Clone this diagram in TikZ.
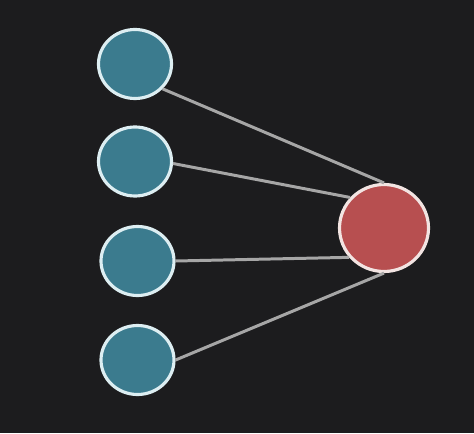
\documentclass[tikz,border=0pt]{standalone}
\usepackage{tikz}
\usetikzlibrary{shapes.geometric}
\definecolor{bgdark}{HTML}{1C1C1E}
\definecolor{tealfill}{HTML}{3B7B8E}
\definecolor{tealrim}{HTML}{DDEEF2}
\definecolor{redfill}{HTML}{B74F50}
\definecolor{redrim}{HTML}{F2E4E2}
\definecolor{wiregray}{HTML}{A6A6A6}

\begin{document}
\begin{tikzpicture}[
    inunit/.style={ellipse,draw=tealrim,fill=tealfill,line width=1.8pt,
      minimum width=1.46cm,minimum height=1.38cm,inner sep=0pt},
    outunit/.style={ellipse,draw=redrim,fill=redfill,line width=1.8pt,
      minimum width=1.78cm,minimum height=1.74cm,inner sep=0pt},
    wire/.style={draw=wiregray,line width=1.7pt}]
  % Background and picture size
  \fill[bgdark] (0,0) rectangle (9.48,8.66);
  \useasboundingbox (0,0) rectangle (9.48,8.66);
  %
  % Input units
  \node[inunit] (in1) at (2.70,7.38) {};
  \node[inunit] (in2) at (2.70,5.43) {};
  \node[inunit] (in3) at (2.75,3.44) {};
  \node[inunit] (in4) at (2.75,1.46) {};
  %
  % Output unit
  \node[outunit] (out) at (7.68,4.10) {};
  %
  % Connections
  \draw[wire] (in1.-42) -- (out.90);
  \draw[wire] (in2.-3)  -- (out.138);
  \draw[wire] (in3.0)   -- (out.220);
  \draw[wire] (in4.0)   -- (out.270);
  %
\end{tikzpicture}
\end{document}
